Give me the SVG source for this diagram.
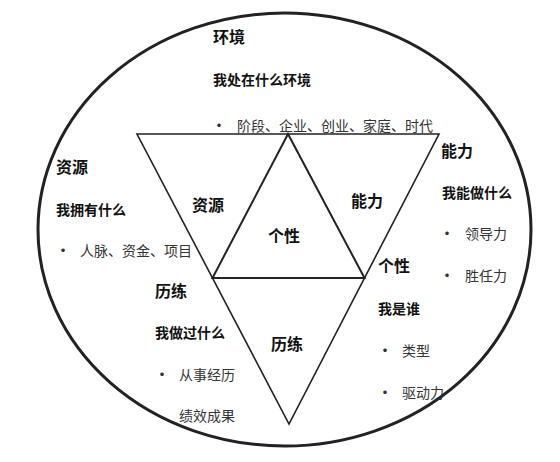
<svg xmlns="http://www.w3.org/2000/svg" width="560" height="462" viewBox="0 0 560 462">
<style>
text{font-family:"Noto Sans CJK SC","Noto Sans",sans-serif;dominant-baseline:central}
.h{font-size:16px;font-weight:bold;fill:#111}
.s{font-size:14px;font-weight:bold;fill:#111}
.i{font-size:14px;fill:#333}
.b{font-size:14px;font-weight:bold;fill:#333}
.ln{fill:none;stroke:#222;stroke-linejoin:miter}
</style>
<rect width="560" height="462" fill="#fff"/>
<g id="connectors">
<ellipse cx="284.5" cy="229.5" rx="246.5" ry="216.5" class="ln" stroke-width="3"/>
<polygon points="137,134 439,134 289,424" class="ln" stroke-width="1.6"/>
<polygon points="288,134 212.5,278 364.5,278" class="ln" stroke-width="2"/>
</g>
<g id="env">
<text class="h" x="213" y="36">环境</text>
<text class="s" x="213" y="79">我处在什么环境</text>
<text class="b" x="212" y="124">•</text>
<text class="i" x="237" y="125">阶段、企业、创业、家庭、时代</text>
</g>
<g id="res">
<text class="h" x="56" y="166">资源</text>
<text class="s" x="56" y="209">我拥有什么</text>
<text class="b" x="56" y="249">•</text>
<text class="i" x="80" y="250">人脉、资金、项目</text>
</g>
<g id="abl">
<text class="h" x="441" y="150">能力</text>
<text class="s" x="442" y="192">我能做什么</text>
<text class="b" x="440" y="232">•</text>
<text class="i" x="465" y="233">领导力</text>
<text class="b" x="440" y="274">•</text>
<text class="i" x="465" y="275">胜任力</text>
</g>
<g id="per">
<text class="h" x="378" y="265">个性</text>
<text class="s" x="378" y="308">我是谁</text>
<text class="b" x="378" y="349">•</text>
<text class="i" x="402" y="350">类型</text>
<text class="b" x="378" y="391">•</text>
<text class="i" x="402" y="392">驱动力</text>
</g>
<g id="exp">
<text class="h" x="155" y="290">历练</text>
<text class="s" x="155" y="332">我做过什么</text>
<text class="b" x="155" y="373">•</text>
<text class="i" x="179" y="374">从事经历</text>
<text class="i" x="179" y="415">绩效成果</text>
</g>
<g id="inner">
<text class="h" x="192" y="204">资源</text>
<text class="h" x="351" y="200">能力</text>
<text class="h" x="268" y="235">个性</text>
<text class="h" x="271" y="343">历练</text>
</g>
</svg>
